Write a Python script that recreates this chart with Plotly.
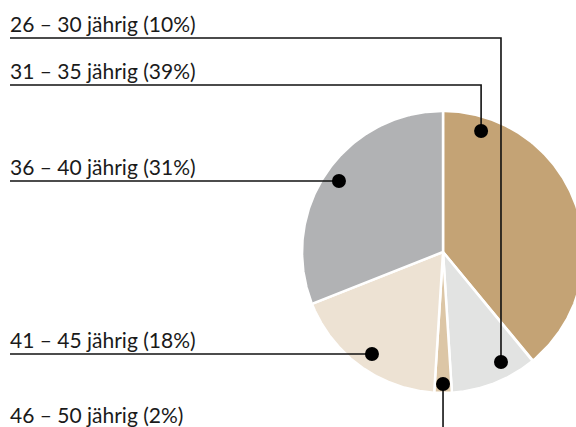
import numpy as np
import plotly.graph_objects as go

# ---- data ----
categories = ["26 – 30 jährig", "31 – 35 jährig", "36 – 40 jährig", "41 – 45 jährig", "46 – 50 jährig"]
values = [10, 39, 31, 18, 2]
# clockwise order of slices starting at 12 o'clock
slice_order = ["31 – 35 jährig", "26 – 30 jährig", "46 – 50 jährig", "41 – 45 jährig", "36 – 40 jährig"]
colors = {
    "31 – 35 jährig": "#C4A375",
    "26 – 30 jährig": "#E2E3E2",
    "46 – 50 jährig": "#DCC6A6",
    "41 – 45 jährig": "#EDE2D3",
    "36 – 40 jährig": "#B1B2B4",
}

# leader layout (pie radius = 1, centre = 0,0)
dot_pos = {
    "26 – 30 jährig": (0.411, -0.780),
    "31 – 35 jährig": (0.270, 0.858),
    "36 – 40 jährig": (-0.738, 0.504),
    "41 – 45 jährig": (-0.504, -0.723),
    "46 – 50 jährig": (0.0, -0.936),
}
label_line_y = {
    "26 – 30 jährig": 1.518,
    "31 – 35 jährig": 1.184,
    "36 – 40 jährig": 0.504,
    "41 – 45 jährig": -0.723,
}
X0, X1 = -3.142, 0.943
Y0, Y1 = -1.241, 1.787
LEFT = -3.071

fig = go.Figure()

val = dict(zip(categories, values))
total = sum(values)
start = 0.0
for cat in slice_order:
    frac = val[cat] / total
    a = np.linspace(start, start + frac, 200) * 2 * np.pi
    xs = np.concatenate([[0], np.sin(a), [0]])
    ys = np.concatenate([[0], np.cos(a), [0]])
    fig.add_trace(go.Scatter(x=xs, y=ys, mode="lines", fill="toself",
                             fillcolor=colors[cat],
                             line=dict(color="white", width=2.5),
                             hoverinfo="skip", showlegend=False))
    start += frac

# leader lines
for cat in categories:
    dx, dy = dot_pos[cat]
    if cat in label_line_y:
        ly = label_line_y[cat]
        if abs(ly - dy) > 0.02:
            lx = [LEFT, dx, dx]
            lyy = [ly, ly, dy]
        else:
            lx = [LEFT, dx]
            lyy = [ly, ly]
    else:
        lx = [dx, dx]
        lyy = [dy, Y0 - 0.05]
    fig.add_trace(go.Scatter(x=lx, y=lyy, mode="lines",
                             line=dict(color="#111111", width=1.6),
                             hoverinfo="skip", showlegend=False))

# dots
fig.add_trace(go.Scatter(x=[dot_pos[c][0] for c in categories],
                         y=[dot_pos[c][1] for c in categories],
                         mode="markers", marker=dict(color="black", size=14),
                         hoverinfo="skip", showlegend=False))

# labels
font = dict(family="Lato, Open Sans, sans-serif", size=21, color="#1a1a1a")
for cat, v in zip(categories, values):
    text = f"{cat} ({v}%)"
    if cat in label_line_y:
        fig.add_annotation(x=LEFT, y=label_line_y[cat], text=text, showarrow=False,
                           xanchor="left", yanchor="bottom", yshift=0, xshift=-2,
                           font=font)
    else:
        fig.add_annotation(x=LEFT, y=-1.149, text=text, showarrow=False,
                           xanchor="left", yanchor="middle", xshift=-2,
                           font=font)

fig.update_layout(
    width=576, height=427,
    margin=dict(l=0, r=0, t=0, b=0),
    paper_bgcolor="white", plot_bgcolor="white",
    xaxis=dict(range=[X0, X1], visible=False, fixedrange=True),
    yaxis=dict(range=[Y0, Y1], visible=False, fixedrange=True),
    showlegend=False,
    hovermode=False,
)
fig.write_html("out.html",
               config={"displayModeBar": False, "staticPlot": True},
               post_script="document.body.style.margin='0';document.body.style.overflow='hidden';")
